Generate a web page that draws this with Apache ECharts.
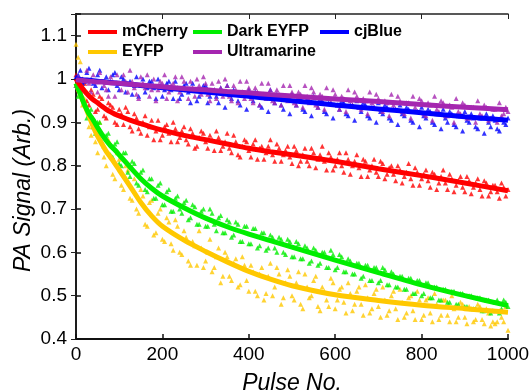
<!DOCTYPE html>
<html>
<head>
<meta charset="utf-8">
<script src="https://cdn.jsdelivr.net/npm/echarts@6/dist/echarts.min.js"></script>
<style>html,body{margin:0;padding:0;background:#fff}#c{width:532px;height:391px}</style>
</head>
<body>
<div id="c"></div>
<script>
// Pulse numbers of the measured points (two interleaved sets)
var pulsesA = [0,10,20,30,40,50,60,70,80,90,100,110,120,130,140,150,160,170,180,190,200,210,220,230,240,250,260,270,280,290,300,310,320,330,340,350,360,370,380,390,400,410,420,430,440,450,460,470,480,490,500,510,520,530,540,550,560,570,580,590,600,610,620,630,640,650,660,670,680,690,700,710,720,730,740,750,760,770,780,790,800,810,820,830,840,850,860,870,880,890,900,910,920,930,940,950,960,970,980,990,1000];
var pulsesB = [5,15,25,35,45,55,65,75,85,95,105,115,125,135,145,155,165,175,185,195,205,215,225,235,245,255,265,275,285,295,305,315,325,335,345,355,365,375,385,395,405,415,425,435,445,455,465,475,485,495,505,515,525,535,545,555,565,575,585,595,605,615,625,635,645,655,665,675,685,695,705,715,725,735,745,755,765,775,785,795,805,815,825,835,845,855,865,875,885,895,905,915,925,935,945,955,965,975,985,995];

var mCherryA = [1.01,0.97,0.99,0.94,0.965,0.93,0.955,0.91,0.94,0.90,0.93,0.895,0.925,0.88,0.91,0.875,0.915,0.89,0.86,0.905,0.87,0.895,0.855,0.885,0.865,0.89,0.85,0.875,0.845,0.88,0.855,0.87,0.835,0.865,0.845,0.875,0.83,0.855,0.82,0.86,0.835,0.85,0.815,0.845,0.83,0.86,0.81,0.84,0.825,0.845,0.805,0.835,0.81,0.84,0.80,0.83,0.815,0.845,0.79,0.82,0.80,0.83,0.785,0.815,0.80,0.825,0.775,0.81,0.79,0.815,0.775,0.805,0.78,0.80,0.765,0.79,0.775,0.805,0.755,0.785,0.77,0.79,0.75,0.78,0.76,0.79,0.745,0.77,0.755,0.775,0.74,0.765,0.75,0.77,0.73,0.76,0.74,0.755,0.725,0.75,0.745];
var mCherryB = [0.975,1.0,0.95,0.975,0.925,0.96,0.915,0.945,0.935,0.895,0.92,0.935,0.89,0.92,0.885,0.90,0.87,0.905,0.88,0.86,0.89,0.875,0.90,0.855,0.88,0.86,0.885,0.84,0.865,0.875,0.84,0.86,0.88,0.835,0.855,0.84,0.87,0.825,0.845,0.855,0.82,0.86,0.84,0.815,0.845,0.825,0.85,0.81,0.835,0.82,0.845,0.80,0.825,0.81,0.84,0.795,0.825,0.81,0.83,0.79,0.815,0.80,0.83,0.78,0.81,0.795,0.815,0.775,0.80,0.785,0.81,0.77,0.795,0.78,0.80,0.76,0.785,0.77,0.795,0.755,0.78,0.765,0.785,0.745,0.775,0.76,0.78,0.74,0.765,0.75,0.775,0.735,0.76,0.745,0.765,0.73,0.755,0.74,0.76,0.73];

var cjBlueA = [1.005,1.02,0.995,1.025,0.99,1.01,0.98,1.005,0.995,1.015,0.975,1.0,0.99,0.965,1.005,0.985,0.97,0.995,0.98,1.0,0.96,0.99,0.975,0.995,0.955,0.985,0.97,0.99,0.95,0.975,0.985,0.96,0.975,0.945,0.97,0.985,0.955,0.97,0.94,0.965,0.975,0.95,0.965,0.935,0.96,0.975,0.945,0.96,0.93,0.955,0.965,0.94,0.955,0.925,0.95,0.96,0.935,0.95,0.92,0.945,0.955,0.93,0.945,0.915,0.94,0.95,0.925,0.94,0.91,0.935,0.945,0.92,0.935,0.905,0.93,0.94,0.915,0.93,0.90,0.925,0.935,0.91,0.925,0.895,0.92,0.93,0.90,0.92,0.89,0.915,0.925,0.90,0.91,0.885,0.91,0.92,0.89,0.905,0.88,0.90,0.91];
var cjBlueB = [1.01,0.99,1.015,1.0,0.985,1.02,0.995,0.975,1.01,0.985,1.005,0.97,0.995,0.985,0.96,1.0,0.98,0.995,0.955,0.985,0.975,0.995,0.955,0.98,0.965,0.99,0.945,0.975,0.96,0.985,0.945,0.97,0.96,0.98,0.935,0.965,0.975,0.95,0.97,0.93,0.96,0.97,0.94,0.965,0.925,0.955,0.965,0.94,0.96,0.92,0.95,0.96,0.93,0.955,0.915,0.945,0.955,0.925,0.945,0.91,0.94,0.95,0.92,0.94,0.905,0.935,0.945,0.915,0.935,0.90,0.925,0.94,0.91,0.93,0.895,0.92,0.935,0.905,0.925,0.89,0.915,0.93,0.90,0.92,0.885,0.91,0.925,0.895,0.915,0.88,0.905,0.92,0.89,0.91,0.875,0.90,0.915,0.885,0.91,0.895];

var ultramarineA = [0.985,1.0,0.975,0.99,1.01,0.97,0.995,0.975,1.005,0.96,0.99,1.01,0.97,0.995,0.965,1.005,0.98,0.96,1.0,0.975,0.99,0.955,0.985,1.005,0.97,0.995,0.955,0.98,1.0,0.965,0.99,0.95,0.975,0.995,0.96,0.985,0.95,0.975,0.995,0.955,0.98,0.945,0.97,0.99,0.955,0.975,0.945,0.965,0.985,0.95,0.97,0.94,0.965,0.985,0.945,0.97,0.935,0.96,0.98,0.945,0.965,0.93,0.955,0.975,0.94,0.96,0.93,0.95,0.97,0.935,0.955,0.925,0.945,0.965,0.93,0.95,0.92,0.945,0.96,0.925,0.95,0.915,0.94,0.96,0.925,0.945,0.915,0.935,0.955,0.92,0.94,0.91,0.935,0.95,0.915,0.935,0.91,0.93,0.945,0.92,0.925];
var ultramarineB = [1.005,0.98,1.02,0.97,0.995,1.015,0.985,0.96,0.995,1.01,0.975,0.995,1.02,0.98,0.955,0.99,1.01,0.975,0.95,0.995,1.01,0.97,0.99,0.95,1.005,0.975,0.995,0.96,0.985,1.005,0.965,0.99,0.955,0.98,1.0,0.96,0.985,0.945,0.97,0.995,0.955,0.98,0.94,0.965,0.99,0.95,0.975,0.94,0.96,0.985,0.945,0.97,0.935,0.96,0.98,0.94,0.965,0.93,0.955,0.975,0.94,0.96,0.925,0.95,0.97,0.935,0.955,0.92,0.945,0.965,0.93,0.95,0.915,0.94,0.96,0.925,0.945,0.91,0.935,0.955,0.92,0.945,0.905,0.93,0.95,0.915,0.94,0.90,0.925,0.945,0.91,0.935,0.90,0.92,0.94,0.905,0.93,0.90,0.915,0.935];

var darkEyfpA = [0.985,0.975,0.945,0.925,0.89,0.90,0.855,0.87,0.825,0.85,0.805,0.83,0.785,0.81,0.76,0.785,0.745,0.77,0.725,0.755,0.71,0.74,0.695,0.725,0.70,0.715,0.675,0.71,0.665,0.695,0.66,0.70,0.665,0.68,0.645,0.675,0.635,0.67,0.625,0.66,0.62,0.655,0.61,0.645,0.605,0.64,0.61,0.635,0.60,0.63,0.59,0.625,0.585,0.615,0.575,0.61,0.57,0.60,0.565,0.605,0.56,0.595,0.555,0.585,0.55,0.575,0.54,0.57,0.535,0.565,0.53,0.565,0.525,0.555,0.52,0.545,0.515,0.54,0.505,0.535,0.50,0.53,0.495,0.52,0.49,0.515,0.485,0.51,0.48,0.505,0.475,0.50,0.47,0.495,0.465,0.49,0.46,0.485,0.46,0.49,0.475];
var darkEyfpB = [0.96,0.975,0.91,0.93,0.875,0.90,0.845,0.875,0.82,0.855,0.80,0.83,0.775,0.805,0.755,0.79,0.74,0.77,0.725,0.76,0.71,0.745,0.695,0.73,0.69,0.72,0.68,0.705,0.665,0.70,0.66,0.69,0.65,0.685,0.645,0.67,0.64,0.665,0.625,0.66,0.62,0.655,0.615,0.645,0.61,0.635,0.60,0.63,0.595,0.625,0.59,0.62,0.585,0.61,0.58,0.605,0.575,0.60,0.565,0.595,0.565,0.59,0.555,0.58,0.55,0.575,0.545,0.57,0.535,0.565,0.535,0.56,0.525,0.55,0.52,0.545,0.515,0.54,0.505,0.535,0.505,0.53,0.495,0.52,0.49,0.515,0.485,0.51,0.48,0.505,0.475,0.50,0.47,0.495,0.465,0.49,0.465,0.49,0.47,0.485];

var eyfpA = [1.08,1.04,0.955,0.89,0.91,0.83,0.875,0.80,0.85,0.77,0.815,0.745,0.79,0.72,0.70,0.745,0.665,0.715,0.64,0.69,0.63,0.68,0.62,0.675,0.60,0.65,0.58,0.625,0.57,0.61,0.58,0.63,0.565,0.61,0.545,0.59,0.535,0.585,0.525,0.57,0.51,0.555,0.50,0.565,0.505,0.575,0.52,0.55,0.495,0.56,0.50,0.53,0.48,0.55,0.495,0.535,0.475,0.52,0.49,0.54,0.47,0.515,0.485,0.53,0.465,0.51,0.48,0.525,0.46,0.505,0.475,0.52,0.455,0.50,0.47,0.515,0.45,0.495,0.465,0.51,0.445,0.49,0.46,0.505,0.445,0.49,0.455,0.50,0.44,0.485,0.45,0.475,0.44,0.48,0.445,0.47,0.43,0.435,0.465,0.44,0.42];
var eyfpB = [1.05,0.94,0.97,0.87,0.855,0.90,0.82,0.86,0.78,0.83,0.755,0.80,0.725,0.77,0.69,0.73,0.66,0.72,0.645,0.70,0.625,0.67,0.605,0.66,0.595,0.635,0.57,0.615,0.65,0.565,0.60,0.555,0.59,0.53,0.60,0.545,0.575,0.52,0.59,0.535,0.57,0.51,0.55,0.49,0.545,0.50,0.565,0.48,0.53,0.545,0.49,0.555,0.47,0.52,0.50,0.545,0.465,0.51,0.475,0.53,0.49,0.52,0.46,0.505,0.48,0.52,0.455,0.495,0.47,0.515,0.45,0.49,0.465,0.51,0.445,0.485,0.46,0.50,0.445,0.49,0.455,0.495,0.44,0.48,0.455,0.49,0.44,0.47,0.45,0.48,0.435,0.47,0.445,0.475,0.435,0.46,0.44,0.44,0.45,0.475];

// Fitted curves
var fitPulses = [0,10,20,30,40,50,60,70,80,90,100,125,150,175,200,250,300,350,400,450,500,600,700,800,900,1000];
var mCherryFit     = [1.0,0.985,0.972,0.961,0.952,0.945,0.937,0.93,0.924,0.919,0.915,0.905,0.897,0.889,0.882,0.87,0.86,0.85,0.84,0.832,0.825,0.81,0.793,0.777,0.76,0.742];
var cjBlueFit      = [1.0,0.999,0.998,0.997,0.996,0.995,0.994,0.993,0.992,0.991,0.99,0.988,0.985,0.983,0.98,0.975,0.97,0.965,0.96,0.955,0.95,0.94,0.931,0.922,0.913,0.905];
var ultramarineFit = [0.998,0.997,0.996,0.995,0.994,0.993,0.993,0.992,0.991,0.991,0.99,0.988,0.986,0.984,0.982,0.978,0.975,0.971,0.968,0.964,0.961,0.954,0.948,0.941,0.935,0.929];
var darkEyfpFit    = [0.99,0.965,0.94,0.92,0.905,0.888,0.872,0.858,0.846,0.836,0.825,0.797,0.77,0.748,0.73,0.703,0.679,0.659,0.642,0.627,0.612,0.582,0.553,0.525,0.50,0.477];
var eyfpFit        = [0.99,0.965,0.94,0.915,0.89,0.868,0.85,0.833,0.819,0.805,0.79,0.753,0.715,0.684,0.66,0.628,0.602,0.578,0.556,0.538,0.523,0.502,0.489,0.478,0.47,0.462];

var xTicks = [0,200,400,600,800,1000];
var yTicks = [0.4,0.5,0.6,0.7,0.8,0.9,1,1.1];

var colors = {'mCherry':'#ff0000','Dark EYFP':'#00ee00','cjBlue':'#0000ff','EYFP':'#ffc800','Ultramarine':'#a526b0'};
var ptsA  = {'mCherry':mCherryA,'Dark EYFP':darkEyfpA,'cjBlue':cjBlueA,'EYFP':eyfpA,'Ultramarine':ultramarineA};
var ptsB  = {'mCherry':mCherryB,'Dark EYFP':darkEyfpB,'cjBlue':cjBlueB,'EYFP':eyfpB,'Ultramarine':ultramarineB};
var fitBy = {'mCherry':mCherryFit,'Dark EYFP':darkEyfpFit,'cjBlue':cjBlueFit,'EYFP':eyfpFit,'Ultramarine':ultramarineFit};

function pairs(xs, ys){ return xs.map(function(x,i){ return [x, ys[i]]; }); }

var drawOrder = ['EYFP','Dark EYFP','mCherry','cjBlue','Ultramarine'];
var series = [];
drawOrder.forEach(function(n){
  series.push({type:'scatter', name:n+' data', data:pairs(pulsesA, ptsA[n]).concat(pairs(pulsesB, ptsB[n])),
    symbol:'triangle', symbolSize:5, itemStyle:{color:colors[n]}, z:2, silent:true});
});
drawOrder.forEach(function(n){
  series.push({type:'line', name:n, data:pairs(fitPulses, fitBy[n]), smooth:0.3, symbol:'none',
    lineStyle:{color:colors[n], width:5}, itemStyle:{color:colors[n]}, z:3, silent:true});
});

var legendText = {fontFamily:'Liberation Sans, Arial, sans-serif', fontWeight:'bold', fontSize:16, color:'#000', lineHeight:16};
function mkLegend(left, data){
  return {orient:'vertical', left:left, top:24, itemWidth:29, itemHeight:4, itemGap:4, icon:'rect',
    data:data, textStyle:legendText, selectedMode:false, padding:0};
}

var fmtY = function(v){
  for (var i=0;i<yTicks.length;i++){ if (Math.abs(v-yTicks[i])<1e-6) return String(yTicks[i]); }
  return '';
};
var fmtX = function(v){ return xTicks.indexOf(Math.round(v))>=0 ? String(Math.round(v)) : ''; };

var axisFont = {fontFamily:'Liberation Sans, Arial, sans-serif', fontSize:19, color:'#000'};
var titleFontX = {fontFamily:'Liberation Sans, Arial, sans-serif', fontStyle:'italic', fontSize:23, color:'#000'};
var titleFontY = {fontFamily:'Liberation Sans, Arial, sans-serif', fontStyle:'italic', fontSize:23, color:'#000', padding:[0,28,0,0]};

var option = {
  animation:false,
  backgroundColor:'#fff',
  grid:{left:76, right:24, top:14, bottom:52, containLabel:false, outerBoundsMode:'none'},
  legend:[mkLegend(88,['mCherry','EYFP']), mkLegend(193,['Dark EYFP','Ultramarine']), mkLegend(320,['cjBlue'])],
  xAxis:[
    {type:'value', min:0, max:1000, interval:200, position:'bottom',
     axisLine:{lineStyle:{color:'#111', width:2}}, axisTick:{inside:true, length:5, lineStyle:{color:'#111', width:1.5}},
     axisLabel:Object.assign({margin:6, formatter:fmtX}, axisFont), splitLine:{show:false},
     name:'Pulse No.', nameLocation:'middle', nameGap:33, nameMoveOverlap:false, nameTextStyle:titleFontX},
    {type:'value', min:0, max:1000, interval:200, position:'top',
     axisLine:{lineStyle:{color:'#222', width:1.5}}, axisTick:{inside:true, length:5, lineStyle:{color:'#222'}},
     axisLabel:{show:false}, splitLine:{show:false}}
  ],
  yAxis:[
    {type:'value', min:0.4, max:1.15, interval:0.1, position:'left',
     axisLine:{lineStyle:{color:'#111', width:2}}, axisTick:{inside:true, length:5, lineStyle:{color:'#111', width:1.5}},
     axisLabel:Object.assign({margin:9, formatter:fmtY}, axisFont), splitLine:{show:false},
     name:'PA Signal (Arb.)', nameLocation:'middle', nameGap:41, nameMoveOverlap:false, nameTextStyle:titleFontY},
    {type:'value', min:0.4, max:1.15, interval:0.1, position:'right',
     axisLine:{lineStyle:{color:'#222', width:1.5}}, axisTick:{inside:true, length:5, lineStyle:{color:'#222'}},
     axisLabel:{show:false}, splitLine:{show:false}}
  ],
  series:series
};

var chart = echarts.init(document.getElementById('c'), null, {renderer:'canvas'});
chart.setOption(option);
</script>
</body>
</html>
